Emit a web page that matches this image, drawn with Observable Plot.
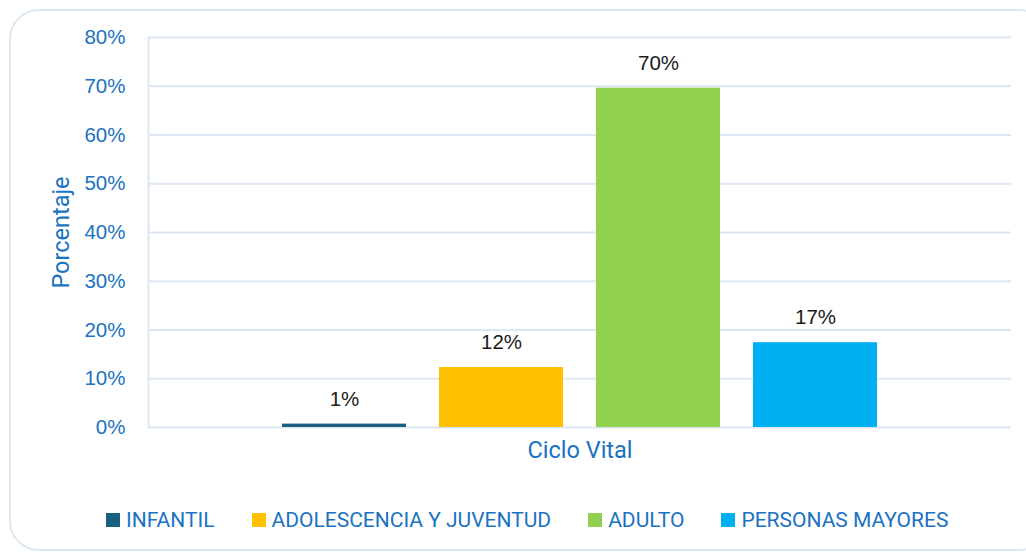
<!DOCTYPE html>
<html>
<head>
<meta charset="utf-8">
<script src="https://cdn.jsdelivr.net/npm/d3@7"></script>
<script src="https://cdn.jsdelivr.net/npm/@observablehq/plot@0.6"></script>
<style>
  html, body { margin: 0; padding: 0; background: #fff; overflow: hidden; }
  #wrap { position: relative; width: 1026px; height: 555px; overflow: hidden; font-family: Roboto, "Liberation Sans", sans-serif; }
  #border { position: absolute; left: 9px; top: 9px; width: 1040px; height: 542px; border: 2px solid #dde8f5; border-radius: 30px; box-sizing: border-box; }
  #chart { position: absolute; left: 0; top: 0; }
  #legend { position: absolute; left: 106px; top: 508px; display: flex; gap: 37px; align-items: center; font-size: 21px; color: #1b72c2; line-height: 24px; white-space: nowrap; }
  .item { display: flex; align-items: center; gap: 6px; }
  .sw { width: 14px; height: 14px; display: inline-block; }
</style>
</head>
<body>
<div id="wrap">
  <div id="border"></div>
  <div id="chart"></div>
  <div id="legend"></div>
</div>
<script>
const series = ["INFANTIL", "ADOLESCENCIA Y JUVENTUD", "ADULTO", "PERSONAS MAYORES"];
const values = [0.7, 12.3, 69.6, 17.4];
const labels = ["1%", "12%", "70%", "17%"];
const colors = ["#19607f", "#ffc000", "#92d050", "#00b0f0"];
const yTicks = [0, 10, 20, 30, 40, 50, 60, 70, 80];
const xTitle = "Ciclo Vital";
const yTitle = "Porcentaje";

const data = series.map((s, i) => ({serie: s, valor: values[i], etiqueta: labels[i]}));
const textBlue = "#1b72c2";
const numFont = "'Liberation Sans', Arial, sans-serif";

const chart = Plot.plot({
  width: 1026,
  height: 470,
  marginLeft: 148,
  marginRight: 15,
  marginTop: 37,
  marginBottom: 43,
  style: {fontFamily: "Roboto, 'Liberation Sans', sans-serif", fontSize: "20px", color: textBlue, background: "transparent"},
  x: {domain: series, paddingInner: 0.21, paddingOuter: 0.853, axis: null},
  y: {domain: [0, 80], axis: null},
  color: {domain: series, range: colors},
  marks: [
    Plot.ruleY(yTicks, {stroke: "#dde7f3", strokeWidth: 2}),
    Plot.frame({anchor: "left", stroke: "#dde7f3", strokeWidth: 2}),
    Plot.barY(data, {x: "serie", y: "valor", fill: "serie"}),
    Plot.text(data, {x: "serie", y: "valor", text: "etiqueta", dy: -25, fill: "#1a1a1a", fontSize: 20.5, fontFamily: numFont}),
    Plot.axisY({ticks: yTicks, label: null, tickSize: 0, tickPadding: 23, tickFormat: d => d + "%", fontSize: 20.5, fontFamily: numFont, fill: textBlue}),
    Plot.text([xTitle], {frameAnchor: "bottom", dy: 30, fill: textBlue, fontSize: 23.5}),
    Plot.text([yTitle], {frameAnchor: "left", textAnchor: "middle", dx: -87, rotate: -90, fill: textBlue, fontSize: 23.5})
  ]
});
document.getElementById("chart").appendChild(chart);

const legend = document.getElementById("legend");
series.forEach((s, i) => {
  const it = document.createElement("div");
  it.className = "item";
  const sw = document.createElement("span");
  sw.className = "sw";
  sw.style.background = colors[i];
  const tx = document.createElement("span");
  tx.textContent = s;
  it.appendChild(sw);
  it.appendChild(tx);
  legend.appendChild(it);
});
</script>
</body>
</html>
